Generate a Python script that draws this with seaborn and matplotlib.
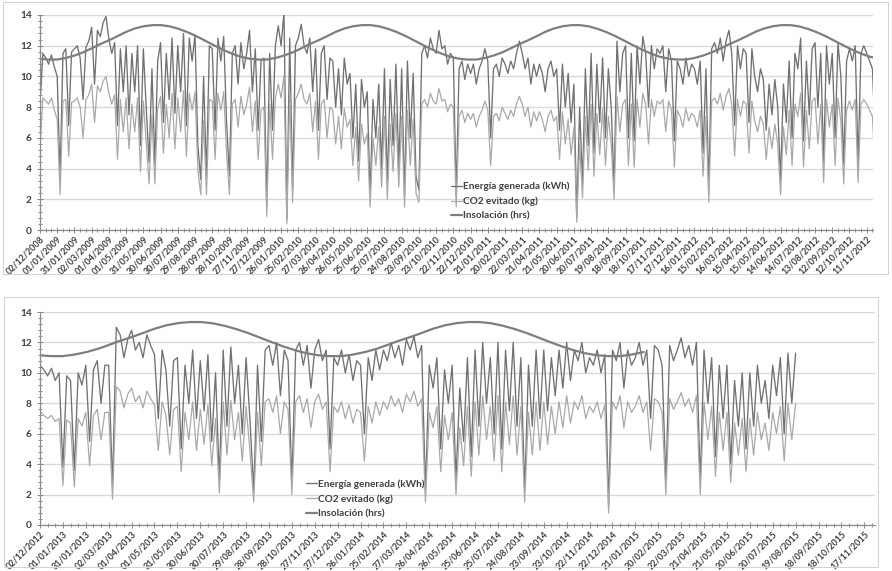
import numpy as np
import pandas as pd
import matplotlib
matplotlib.use("Agg")
import matplotlib.pyplot as plt
import matplotlib.dates as mdates
from matplotlib.ticker import MultipleLocator, FixedLocator
from matplotlib.patches import Rectangle
import seaborn as sns

# ---------------- DATA ----------------
STEP_DAYS = 5  # sampling step of the series
TOP_START = "2008-12-02"
BOT_START = "2012-12-02"

ENERGIA_TOP = [
    8.2, 11.5, 11.2, 10.8, 11.4, 10.6,
    10.0, 3.4, 11.5, 11.8, 6.8, 11.6,
    11.8, 12.0, 11.2, 8.5, 11.9, 12.3,
    13.2, 9.5, 13.0, 12.6, 13.5, 13.9,
    12.4, 11.5, 12.2, 6.8, 11.8, 9.0,
    12.0, 7.5, 11.5, 9.0, 12.0, 5.5,
    11.8, 8.0, 4.4, 10.5, 4.3, 11.0,
    12.2, 7.0, 11.5, 8.5, 12.5, 7.6,
    12.0, 9.0, 12.8, 6.8, 12.5, 11.0,
    12.7, 5.5, 3.3, 10.0, 3.4, 12.0,
    11.8, 6.5, 12.5, 11.0, 12.6, 7.0,
    3.5, 11.5, 12.0, 9.5, 12.2, 10.5,
    11.5, 13.0, 9.0, 11.8, 6.5, 11.0,
    11.2, 1.5, 11.5, 6.5, 12.0, 13.3,
    12.0, 14.2, 0.7, 12.5, 2.6, 12.0,
    12.5, 13.4, 12.0, 11.5, 12.5, 9.0,
    11.8, 6.5, 11.5, 12.0, 8.5, 11.2,
    11.0, 8.0, 10.5, 7.5, 11.2, 9.5,
    10.2, 6.0, 9.5, 4.5, 9.8, 8.0,
    9.0, 2.2, 8.5, 6.0, 9.5, 4.0,
    10.5, 3.0, 9.8, 5.5, 10.8, 4.0,
    10.5, 2.2, 11.0, 6.0, 10.2, 3.5,
    2.6, 11.5, 12.0, 11.2, 12.5, 11.8,
    11.5, 13.0, 11.8, 12.0, 10.8, 11.5,
    11.2, 2.2, 10.5, 11.0, 9.8, 10.8,
    10.2, 10.8, 9.5, 10.5, 11.0, 11.8,
    11.0, 6.0, 10.5, 10.8, 10.0, 11.2,
    10.8, 10.2, 11.0, 10.5, 11.5, 12.3,
    11.5, 10.5, 11.2, 9.5, 10.8, 10.0,
    10.8, 10.2, 9.0, 10.5, 11.0, 10.0,
    10.5, 6.5, 10.8, 8.0, 10.2, 7.0,
    9.5, 0.8, 8.0, 3.0, 10.5, 5.5,
    11.5, 5.0, 10.8, 7.0, 11.2, 6.0,
    10.5, 8.0, 2.8, 12.3, 9.0, 11.5,
    12.0, 6.0, 11.5, 5.8, 12.0, 9.5,
    12.6, 11.5, 8.0, 12.0, 10.5, 11.8,
    11.5, 12.0, 9.0, 11.8, 11.0, 5.8,
    11.0, 10.5, 9.5, 11.2, 10.0, 10.8,
    10.5, 9.5, 11.0, 5.0, 10.5, 2.6,
    11.8, 12.2, 11.5, 12.5, 11.0, 12.3,
    13.0, 11.5, 6.8, 12.0, 10.5, 11.8,
    11.5, 7.0, 11.8, 10.0, 9.0, 10.5,
    9.8, 6.5, 9.5, 7.5, 9.8, 8.0,
    3.3, 9.5, 7.0, 11.0, 6.0, 11.5,
    10.5, 12.5, 5.8, 11.0, 7.5, 11.8,
    12.2, 8.0, 11.5, 4.4, 12.0, 9.5,
    11.5, 6.0, 12.2, 10.0, 4.3, 11.0,
    11.8, 11.0, 12.0, 4.4, 11.5, 12.0,
    11.5, 11.0, 10.5, 6.0,
]

CO2_TOP = [
    5.4, 8.6, 8.4, 8.2, 8.6, 7.8,
    7.2, 2.3, 8.4, 8.5, 4.8, 8.3,
    8.4, 8.6, 8.0, 6.0, 8.5, 8.8,
    9.5, 7.0, 9.4, 9.0, 9.7, 10.0,
    8.9, 8.2, 8.8, 4.6, 8.5, 6.4,
    8.6, 5.3, 8.2, 6.4, 8.6, 3.8,
    8.4, 5.7, 3.0, 7.5, 3.0, 7.9,
    8.7, 5.0, 8.2, 6.0, 8.9, 5.3,
    8.6, 6.4, 9.1, 4.8, 8.9, 7.8,
    9.0, 3.9, 2.3, 7.1, 2.3, 8.5,
    8.4, 4.6, 8.9, 7.8, 9.0, 5.0,
    2.3, 8.2, 8.5, 6.7, 8.7, 7.5,
    8.2, 9.3, 6.4, 8.4, 4.6, 7.8,
    8.0, 0.9, 8.2, 4.6, 8.6, 9.5,
    8.6, 10.1, 0.4, 8.9, 1.8, 8.5,
    8.9, 9.5, 8.5, 8.2, 8.9, 6.4,
    8.4, 4.6, 8.2, 8.5, 6.0, 8.0,
    7.8, 5.6, 7.4, 5.3, 7.9, 6.7,
    7.2, 4.2, 6.7, 3.2, 6.9, 5.6,
    6.3, 1.5, 6.0, 4.2, 6.7, 2.8,
    7.4, 2.0, 6.9, 3.8, 7.6, 2.8,
    7.4, 1.5, 7.8, 4.2, 7.2, 2.4,
    1.8, 8.2, 8.5, 8.0, 8.9, 8.4,
    8.2, 9.2, 8.4, 8.5, 7.7, 8.2,
    8.0, 1.5, 7.4, 7.8, 7.0, 7.6,
    7.2, 7.6, 6.7, 7.4, 7.8, 8.4,
    7.8, 4.2, 7.4, 7.6, 7.1, 8.0,
    7.6, 7.2, 7.8, 7.4, 8.2, 8.7,
    8.2, 7.4, 8.0, 6.7, 7.7, 7.1,
    7.7, 7.2, 6.4, 7.4, 7.8, 7.1,
    7.4, 4.6, 7.7, 5.6, 7.2, 4.9,
    6.7, 0.5, 5.6, 2.1, 7.4, 3.9,
    8.2, 3.5, 7.6, 4.9, 7.9, 4.2,
    7.4, 5.6, 2.0, 8.7, 6.4, 8.2,
    8.5, 4.2, 8.2, 4.1, 8.5, 6.7,
    8.9, 8.2, 5.6, 8.5, 7.4, 8.4,
    8.2, 8.5, 6.4, 8.4, 7.8, 4.1,
    7.8, 7.4, 6.7, 7.9, 7.1, 7.6,
    7.4, 6.7, 7.8, 3.5, 7.4, 1.8,
    8.4, 8.6, 8.2, 8.9, 7.8, 8.7,
    9.2, 8.2, 4.8, 8.5, 7.4, 8.4,
    8.2, 5.0, 8.4, 7.1, 6.4, 7.4,
    6.9, 4.6, 6.7, 5.3, 6.9, 5.6,
    2.3, 6.7, 4.9, 7.8, 4.2, 8.2,
    7.4, 8.9, 4.1, 7.8, 5.3, 8.4,
    8.6, 5.6, 8.2, 3.1, 8.5, 6.7,
    8.2, 4.2, 8.6, 7.1, 3.0, 7.8,
    8.4, 7.8, 8.5, 3.1, 8.2, 8.5,
    8.2, 7.8, 7.4, 3.8,
]

ENERGIA_BOT = [
    10.5, 10.2, 9.8, 10.3, 9.5, 10.0,
    3.8, 9.8, 9.5, 3.6, 10.0, 9.2,
    10.5, 5.5, 10.2, 10.8, 8.0, 10.5,
    10.5, 2.5, 13.0, 12.5, 11.0, 12.2,
    12.8, 11.5, 12.0, 11.0, 12.5, 11.8,
    11.2, 7.0, 11.5, 10.2, 6.5, 10.8,
    11.0, 5.0, 10.5, 8.0, 11.5, 7.0,
    10.8, 7.5, 11.2, 5.5, 10.0, 3.0,
    11.5, 6.5, 11.7, 8.0, 10.5, 6.0,
    11.0, 7.0, 2.2, 10.5, 5.5, 11.5,
    11.8, 10.5, 12.0, 8.5, 11.5, 10.8,
    2.8, 11.5, 12.0, 10.5, 11.8, 9.0,
    11.5, 12.2, 10.8, 11.5, 5.0, 11.0,
    10.5, 11.5, 10.0, 11.2, 9.5, 10.8,
    10.5, 6.0, 11.0, 9.5, 11.5, 10.2,
    11.5, 10.8, 12.0, 11.0, 11.8, 10.5,
    12.2, 11.5, 12.4, 11.0, 11.8, 2.2,
    10.5, 9.0, 11.0, 5.0, 10.2, 8.0,
    10.5, 3.0, 9.0, 5.5, 11.0, 4.5,
    11.5, 6.5, 12.0, 8.0, 11.0, 6.0,
    12.0, 5.0, 11.5, 7.5, 12.0, 6.5,
    11.0, 2.2, 10.5, 6.5, 11.5, 7.0,
    11.5, 7.5, 11.0, 8.5, 11.5, 9.0,
    12.0, 9.5, 11.5, 10.8, 12.0, 10.0,
    11.0, 10.5, 11.5, 10.0, 11.2, 1.2,
    11.5, 10.8, 12.0, 9.0, 11.5, 10.5,
    11.0, 12.0, 10.5, 11.5, 7.0, 11.8,
    11.5, 10.5, 2.8, 11.8, 10.8, 11.5,
    12.3, 11.0, 11.8, 10.5, 12.0, 2.8,
    11.5, 8.0, 11.0, 4.5, 10.5, 7.0,
    10.5, 4.0, 9.5, 6.5, 10.0, 5.0,
    10.0, 6.5, 10.5, 8.0, 9.5, 7.0,
    10.5, 8.5, 11.0, 6.0, 11.3, 8.0,
    11.3,
]

CO2_BOT = [
    7.5, 7.2, 7.0, 7.2, 6.8, 7.0,
    2.6, 6.9, 6.7, 2.5, 7.0, 6.5,
    7.4, 3.9, 7.2, 7.6, 5.6, 7.4,
    7.4, 1.7, 9.1, 8.8, 7.7, 8.6,
    9.0, 8.1, 8.5, 7.7, 8.8, 8.3,
    7.9, 4.9, 8.1, 7.2, 4.6, 7.6,
    7.8, 3.5, 7.4, 5.6, 8.1, 4.9,
    7.6, 5.3, 7.9, 3.9, 7.0, 2.1,
    8.1, 4.6, 8.2, 5.6, 7.4, 4.2,
    7.8, 4.9, 1.5, 7.4, 3.9, 8.1,
    8.3, 7.4, 8.5, 6.0, 8.1, 7.6,
    2.0, 8.1, 8.5, 7.4, 8.3, 6.4,
    8.1, 8.6, 7.6, 8.1, 3.5, 7.8,
    7.4, 8.1, 7.0, 7.9, 6.7, 7.6,
    7.4, 4.2, 7.8, 6.7, 8.1, 7.2,
    8.1, 7.6, 8.5, 7.8, 8.3, 7.4,
    8.6, 8.1, 8.8, 7.8, 8.3, 1.5,
    7.4, 6.4, 7.8, 3.5, 7.2, 5.6,
    7.4, 2.0, 6.4, 3.9, 7.8, 3.2,
    8.1, 4.6, 8.5, 5.6, 7.8, 4.2,
    8.5, 3.5, 8.1, 5.3, 8.5, 4.6,
    7.8, 1.5, 7.4, 4.6, 8.1, 4.9,
    8.1, 5.3, 7.8, 6.0, 8.1, 6.4,
    8.5, 6.7, 8.1, 7.6, 8.5, 7.0,
    7.8, 7.4, 8.1, 7.0, 7.9, 0.8,
    8.1, 7.6, 8.5, 6.4, 8.1, 7.4,
    7.8, 8.5, 7.4, 8.1, 4.9, 8.3,
    8.1, 7.4, 2.0, 8.3, 7.6, 8.1,
    8.7, 7.8, 8.3, 7.4, 8.5, 2.0,
    8.1, 5.6, 7.8, 3.2, 7.4, 4.9,
    7.4, 2.8, 6.7, 4.6, 7.0, 3.5,
    7.0, 4.6, 7.4, 5.6, 6.7, 4.9,
    7.4, 6.0, 7.8, 4.2, 8.0, 5.6,
    8.0,
]

# Insolation (hrs) read at the 1st and 16th of each month (Jan 1 ... Dec 16)
INSOL_YEAR = [11.10, 11.20, 11.37, 11.58, 11.81, 12.09, 12.35, 12.62,
              12.90, 13.12, 13.27, 13.34, 13.34, 13.26, 13.09, 12.88,
              12.61, 12.32, 12.03, 11.75, 11.49, 11.29, 11.16, 11.10]
INSOL_TOP_RANGE = ("2008-12-01", "2012-12-16")
INSOL_BOT_RANGE = ("2012-12-01", "2015-02-01")

LABELS = ["Energía generada (kWh)", "CO2 evitado (kg)", "Insolación (hrs)"]
Y_TICKS = [0, 2, 4, 6, 8, 10, 12, 14]
N_TICKS_TOP = 49
N_TICKS_BOT = 37

# ---------------- STYLE ----------------
C_ENER = "#717171"
C_CO2 = "#a9a9a9"
C_INS = "#7e7e7e"
C_GRID = "#d9d9d9"
C_TXT = "#404040"

sns.set_theme(style="white")
plt.rcParams['font.family'] = ['Lato', 'DejaVu Sans']


def insol_frame(rng):
    rows = []
    y0 = pd.Timestamp(rng[0]).year
    y1 = pd.Timestamp(rng[1]).year
    for yr in range(y0, y1 + 1):
        for i, v in enumerate(INSOL_YEAR):
            d = pd.Timestamp(year=yr, month=i // 2 + 1, day=1 if i % 2 == 0 else 16)
            if pd.Timestamp(rng[0]) <= d <= pd.Timestamp(rng[1]):
                rows.append((d, v))
    return pd.DataFrame(rows, columns=["fecha", "valor"])


def series_frame(start, vals):
    d = pd.date_range(start, periods=len(vals), freq=f"{STEP_DAYS}D")
    return pd.DataFrame({"fecha": d, "valor": vals})


def draw_panel(ax, start, ener, co2, ins_rng, n_ticks, span_days, leg_anchor):
    s = pd.Timestamp(start)
    sns.lineplot(data=series_frame(start, ener), x="fecha", y="valor", ax=ax,
                 color=C_ENER, linewidth=0.95, label=LABELS[0])
    sns.lineplot(data=series_frame(start, co2), x="fecha", y="valor", ax=ax,
                 color=C_CO2, linewidth=0.9, label=LABELS[1])
    sns.lineplot(data=insol_frame(ins_rng), x="fecha", y="valor", ax=ax,
                 color=C_INS, linewidth=1.6, label=LABELS[2])
    ax.set_xlim(s, s + pd.Timedelta(days=span_days))
    ax.set_ylim(0, 14)
    ax.set_xlabel("")
    ax.set_ylabel("")
    ax.set_yticks(Y_TICKS)
    ax.yaxis.set_minor_locator(MultipleLocator(0.4))
    ax.grid(axis="y", color=C_GRID, linewidth=1.0)
    ax.set_axisbelow(True)
    ticks = [s + pd.Timedelta(days=30 * k) for k in range(n_ticks)]
    ax.xaxis.set_major_locator(FixedLocator(mdates.date2num(ticks)))
    minor = [s + pd.Timedelta(days=10 * k) for k in range(int(span_days // 10) + 1)]
    ax.xaxis.set_minor_locator(FixedLocator(mdates.date2num(minor)))
    ax.xaxis.set_major_formatter(mdates.DateFormatter("%d/%m/%Y"))
    for side in ("top", "right"):
        ax.spines[side].set_visible(False)
    for side in ("left", "bottom"):
        ax.spines[side].set_color("#8c8c8c")
        ax.spines[side].set_linewidth(0.9)
    ax.tick_params(axis="x", which="both", direction="inout", color="#8c8c8c",
                   length=4, width=0.7, bottom=True)
    ax.tick_params(axis="x", which="minor", length=3)
    ax.tick_params(axis="y", which="both", direction="inout", color="#8c8c8c",
                   length=4, width=0.7, left=True)
    ax.tick_params(axis="y", which="minor", length=2.5)
    ax.tick_params(axis="x", labelsize=6.4, labelcolor=C_TXT, pad=1)
    ax.tick_params(axis="y", labelsize=7.3, labelcolor=C_TXT, pad=4)
    for lab in ax.get_xticklabels():
        lab.set_rotation(45)
        lab.set_ha("right")
        lab.set_rotation_mode("anchor")
        lab.set_fontweight("bold")
    for lab in ax.get_yticklabels():
        lab.set_fontweight("bold")
    leg = ax.legend(loc="upper left", bbox_to_anchor=leg_anchor, frameon=False,
                    fontsize=7.2, handlelength=1.1, handletextpad=0.15,
                    labelspacing=0.55, borderaxespad=0, borderpad=0)
    for t in leg.get_texts():
        t.set_color(C_TXT)
        t.set_fontweight("bold")


fig = plt.figure(figsize=(8.92, 5.71), dpi=100)
ax1 = fig.add_axes([40 / 892, 1 - 230 / 571, 833 / 892, 215 / 571])
ax2 = fig.add_axes([40 / 892, 1 - 525 / 571, 835 / 892, 213 / 571])

draw_panel(ax1, TOP_START, ENERGIA_TOP, CO2_TOP, INSOL_TOP_RANGE,
           N_TICKS_TOP, 1451, (0.493, 0.225))
draw_panel(ax2, BOT_START, ENERGIA_BOT, CO2_BOT, INSOL_BOT_RANGE,
           N_TICKS_BOT, 1094, (0.318, 0.215))

fig.add_artist(Rectangle((3 / 892, 1 - 274 / 571), 885 / 892, 272 / 571,
                         transform=fig.transFigure, fill=False,
                         edgecolor="#d4d4d4", linewidth=0.8))
fig.add_artist(Rectangle((4 / 892, 1 - 567 / 571), 874 / 892, 270 / 571,
                         transform=fig.transFigure, fill=False,
                         edgecolor="#d4d4d4", linewidth=0.8))

fig.savefig("out.png", dpi=100, facecolor="white")
